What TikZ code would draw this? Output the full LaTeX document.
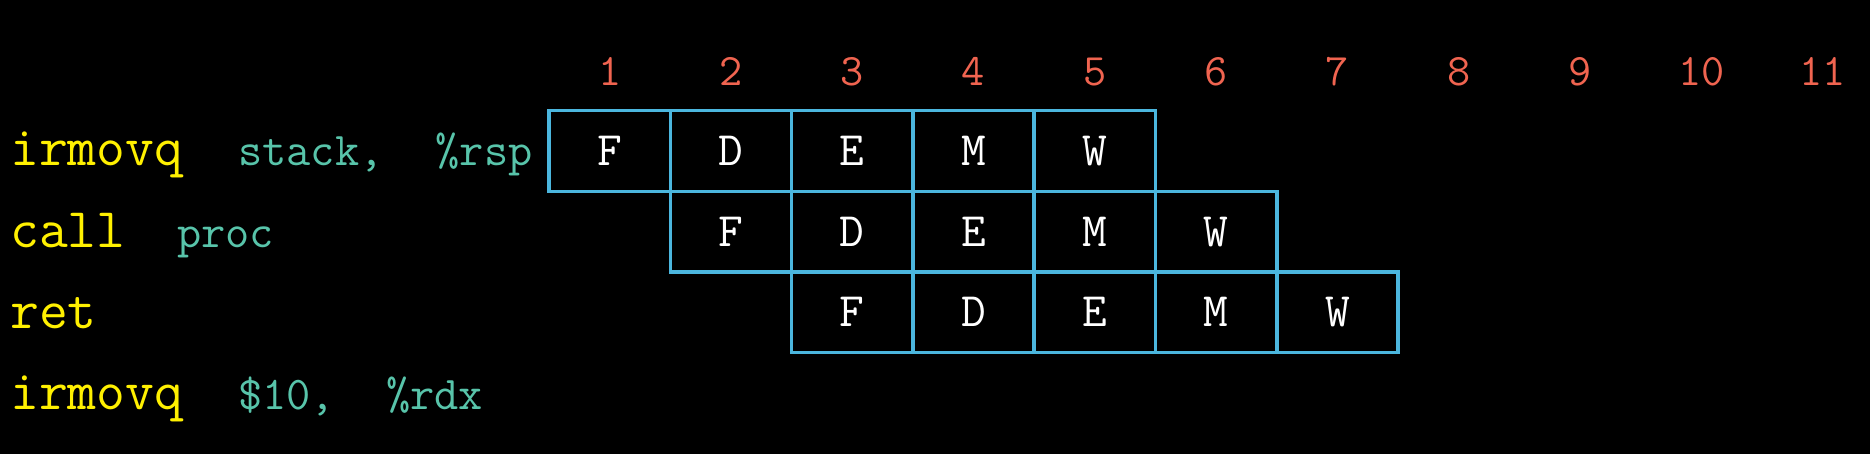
\documentclass[tikz,border=0pt]{standalone}
\usepackage{fontspec}
\setmonofont{Latin Modern Mono}
\definecolor{mnem}{RGB}{255,240,0}
\definecolor{oper}{RGB}{88,196,170}
\definecolor{cyc}{RGB}{240,100,80}
\definecolor{grid}{RGB}{75,182,222}
\begin{document}
\begin{tikzpicture}[x=1pt,y=-1pt,
  mnemonic/.style={anchor=base west,inner sep=0pt,text=mnem,font=\ttfamily\fontsize{56}{60}\selectfont},
  operand/.style={anchor=base west,inner sep=0pt,text=oper,font=\ttfamily\fontsize{47}{50}\selectfont},
  cycnum/.style={inner sep=0pt,text=cyc,font=\ttfamily\fontsize{45}{48}\selectfont},
  cell/.style={draw=grid,line width=3.5pt,minimum width=121.3pt,minimum height=80.65pt,inner sep=0pt,text=white,font=\ttfamily\fontsize{48}{50}\selectfont}]
\useasboundingbox (0,0) rectangle (1870,453);
\fill[black] (-10,-10) rectangle (1880,463);
% cycle numbers
\foreach \k in {1,...,11}{
  \node[cycnum] (n\k) at ({549+121.3*(\k-0.5)},71.7) {\k};
}
% instructions
\node[mnemonic] (m1) at (10,165) {irmovq};
\node[operand] (o1a) at (238,165) {stack,};
\node[operand] (o1b) at (435.5,165) {\%rsp};
\node[mnemonic] (m2) at (10,247) {call};
\node[operand] (o2a) at (177,247) {proc};
\node[mnemonic] (m3) at (10,328) {ret};
\node[mnemonic] (m4) at (10,409) {irmovq};
\node[operand] (o4a) at (238,409) {\$10,};
\node[operand] (o4b) at (386,409) {\%rdx};
% pipeline cells
\foreach \r/\s in {1/1,2/2,3/3}{
  \foreach \st [count=\i from 0] in {F,D,E,M,W}{
    \pgfmathsetmacro{\cx}{549+121.3*(\s+\i-0.5)}
    \pgfmathsetmacro{\cy}{110.7+80.65*(\r-0.5)}
    \node[cell] (c\r\st) at (\cx,\cy) {\st};
  }
}
\end{tikzpicture}
\end{document}
